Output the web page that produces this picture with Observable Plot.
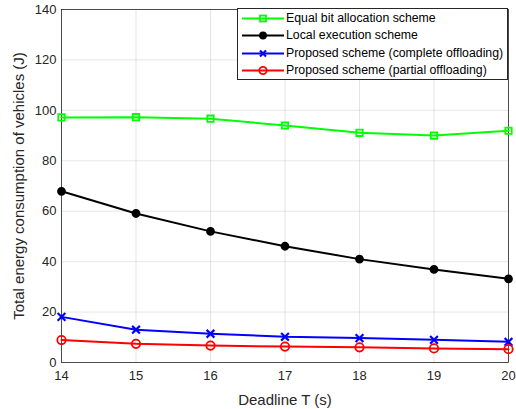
<!DOCTYPE html>
<html><head><meta charset="utf-8">
<script src="https://cdn.jsdelivr.net/npm/d3@7"></script>
<script src="https://cdn.jsdelivr.net/npm/@observablehq/plot@0.6"></script>
<style>
body{margin:0;background:#fff;font-family:"Liberation Sans",Arial,sans-serif;}
#wrap{position:relative;width:516px;height:409px;}
#legend{position:absolute;left:237px;top:8px;width:271px;height:72px;border:1px solid #262626;background:#fff;box-sizing:border-box;font-size:12.3px;color:#000;}
.row{position:absolute;left:0;height:17px;width:100%;}
.row svg{position:absolute;left:3px;top:0;}
.row span{position:absolute;left:48px;top:1px;white-space:nowrap;}
</style></head><body><div id="wrap"></div>
<script>
const deadlines = [14, 15, 16, 17, 18, 19, 20];
const equalBit = [97.2, 97.3, 96.7, 94.0, 91.1, 90.0, 91.9];
const localExec = [67.9, 59.1, 52.0, 46.1, 41.0, 36.9, 33.2];
const complete = [18.1, 13.0, 11.4, 10.2, 9.7, 9.0, 8.2];
const partial = [8.9, 7.4, 6.7, 6.3, 6.0, 5.6, 5.3];
const seriesNames = ["Equal bit allocation scheme", "Local execution scheme", "Proposed scheme (complete offloading)", "Proposed scheme (partial offloading)"];
const yTicks = [0, 20, 40, 60, 80, 100, 120, 140];

const colors = ["#00ff00", "#000000", "#0000ff", "#ff0000"];
const symbols = ["square", "circle", "times", "circle"];
const fills = ["none", "#000000", "none", "none"];
const radii = [3.6, 3.5, 3.6, 4.2];
const allValues = [equalBit, localExec, complete, partial];

const rows = [];
allValues.forEach((vals, s) => vals.forEach((v, i) => rows.push({series: s, x: deadlines[i], y: v})));

const marks = [
  Plot.gridX(deadlines, {stroke: "#000", strokeOpacity: 0.1}),
  Plot.gridY(yTicks, {stroke: "#000", strokeOpacity: 0.1}),
  Plot.frame({stroke: "#262626", strokeWidth: 0.8}),
];
allValues.forEach((vals, s) => {
  const d = rows.filter(r => r.series === s);
  marks.push(Plot.line(d, {x: "x", y: "y", stroke: colors[s], strokeWidth: 2}));
  marks.push(Plot.dot(d, {x: "x", y: "y", symbol: () => symbols[s], r: radii[s], stroke: colors[s], strokeWidth: s === 2 ? 2.2 : 1.8, fill: fills[s]}));
});

const chart = Plot.plot({
  width: 516, height: 409,
  marginLeft: 61, marginRight: 8, marginTop: 9, marginBottom: 47,
  style: {fontFamily: "Liberation Sans, Arial, sans-serif", fontSize: "13px", color: "#262626", background: "#fff"},
  x: {domain: [14, 20], ticks: deadlines, tickFormat: d => String(d), label: "Deadline T (s)", labelAnchor: "center", labelArrow: "none", labelOffset: 42, tickSize: 0, tickPadding: 8},
  y: {domain: [0, 140], ticks: yTicks, label: "Total energy consumption of vehicles (J)", labelAnchor: "center", labelArrow: "none", labelOffset: 48, tickSize: 0, tickPadding: 5},
  symbol: {type: "identity"},
  marks
});
d3.select(chart).selectAll("[aria-label='x-axis label'] text, [aria-label='y-axis label'] text").style("font-size", "15px");
document.getElementById("wrap").appendChild(chart);

const legend = document.createElement("div");
legend.id = "legend";
seriesNames.forEach((name, s) => {
  const row = document.createElement("div");
  row.className = "row";
  row.style.top = (1 + s * 17.4) + "px";
  const sym = symbols[s];
  let marker = "";
  if (sym === "square") marker = `<rect x="19" y="5.5" width="6" height="6" fill="none" stroke="${colors[s]}" stroke-width="1.8"/>`;
  else if (sym === "times") marker = `<path d="M19,5.5L25,11.5M25,5.5L19,11.5" stroke="${colors[s]}" stroke-width="2.2"/>`;
  else marker = `<circle cx="22" cy="8.5" r="${radii[s] - 0.5}" fill="${fills[s]}" stroke="${colors[s]}" stroke-width="1.8"/>`;
  row.innerHTML = `<svg width="44" height="17"><line x1="1" x2="43" y1="8.5" y2="8.5" stroke="${colors[s]}" stroke-width="2"/>${marker}</svg><span>${name}</span>`;
  legend.appendChild(row);
});
document.getElementById("wrap").appendChild(legend);
</script></body></html>
